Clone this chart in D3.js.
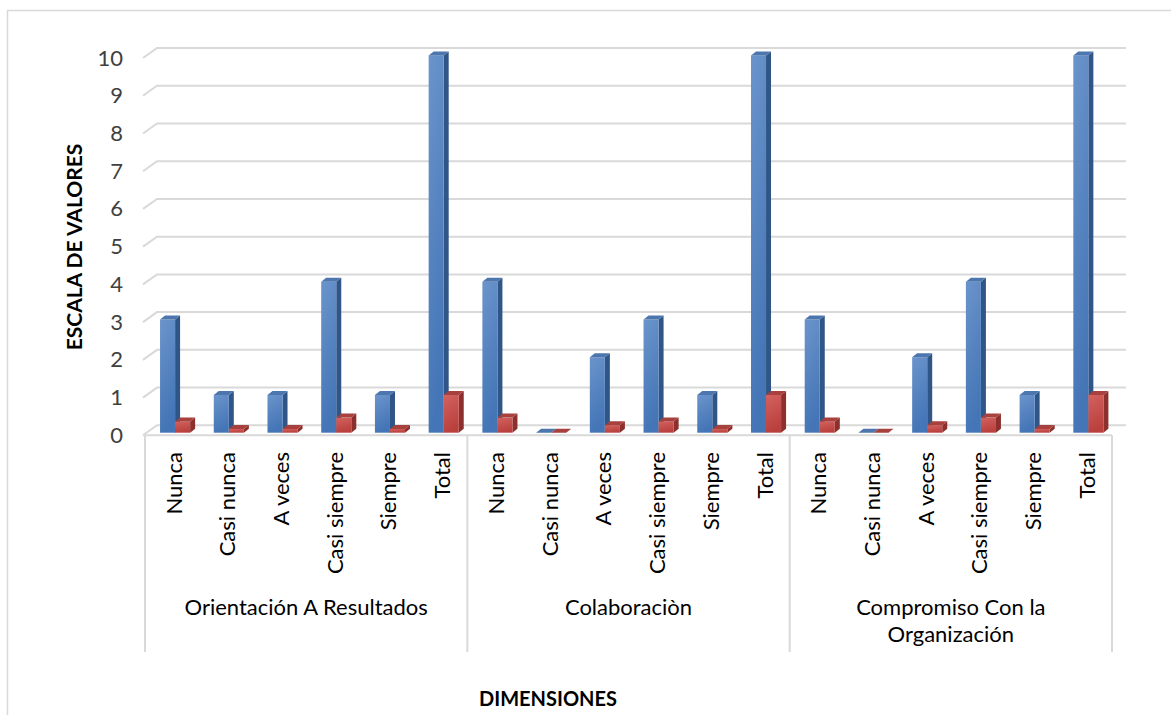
<!DOCTYPE html>
<html>
<head>
<meta charset="utf-8">
<script src="https://cdn.jsdelivr.net/npm/d3@7"></script>
<style>
  body { margin: 0; background: #fff; }
  text { font-family: Lato, "Open Sans", sans-serif; }
</style>
</head>
<body>
<div id="chart"></div>
<script>
// data
const groups = ['Orientación A Resultados', 'Colaboraciòn', 'Compromiso Con la Organización'];
const groupLines = [['Orientación A Resultados'], ['Colaboraciòn'], ['Compromiso Con la', 'Organización']];
const levels = ['Nunca', 'Casi nunca', 'A veces', 'Casi siempre', 'Siempre', 'Total'];
const seriesBlue = [3, 1, 1, 4, 1, 10, 4, 0, 2, 3, 1, 10, 3, 0, 2, 4, 1, 10];
const seriesRed = [0.3, 0.1, 0.1, 0.4, 0.1, 1, 0.4, 0, 0.2, 0.3, 0.1, 1, 0.3, 0, 0.2, 0.4, 0.1, 1];
const yTicks = [0, 1, 2, 3, 4, 5, 6, 7, 8, 9, 10];

const width = 1171, height = 715;
const plotX0 = 145, plotX1 = 1112;
const depthX = 14;                // floor / wall depth
const barDX = 5, barDY = 4;       // bar depth
const fontSize = 22;

const svg = d3.select('#chart').append('svg')
  .attr('width', width)
  .attr('height', height);

// outer border
svg.append('rect')
  .attr('x', 7.5).attr('y', 10.5)
  .attr('width', 1200).attr('height', 800)
  .attr('fill', 'none')
  .attr('stroke', '#d9d9d9')
  .attr('stroke-width', 1.5);

// gradients
const defs = svg.append('defs');
function grad(id, c0, c1) {
  const g = defs.append('linearGradient').attr('id', id)
    .attr('x1', 0).attr('y1', 0).attr('x2', 0.25).attr('y2', 1);
  g.append('stop').attr('offset', '0%').attr('stop-color', c0);
  g.append('stop').attr('offset', '100%').attr('stop-color', c1);
}
grad('blueFront', '#6b94cb', '#4475b6');
grad('redFront', '#d3625f', '#b9403d');

// scales
const yBack = d3.scaleLinear().domain([0, 10]).range([425.3, 48]);
const yFront = yBack.copy().range([435.3, 58]);
const yBar = yBack.copy().range([432.7, 55.4]);

const x = d3.scaleBand().domain(d3.range(seriesBlue.length)).range([plotX0, plotX1]);
const bw = x.bandwidth();
const xs = d3.scaleBand().domain([0, 1]).range([0.28 * bw, 0.84 * bw]);

// back wall gridlines with diagonal floor/wall edge
svg.append('g')
  .selectAll('path')
  .data(yTicks)
  .join('path')
  .attr('d', d => `M${plotX0 - 2},${yFront(d)}L${plotX0 - 2 + depthX},${yBack(d)}L${plotX1 + depthX},${yBack(d)}`)
  .attr('fill', 'none')
  .attr('stroke', '#d9d9d9')
  .attr('stroke-width', 2);

// floor front edge
svg.append('line')
  .attr('x1', plotX0 - 2).attr('x2', plotX1)
  .attr('y1', yFront(0)).attr('y2', yFront(0))
  .attr('stroke', '#d9d9d9')
  .attr('stroke-width', 2);

// group separators
svg.append('g')
  .selectAll('line')
  .data(d3.range(groups.length + 1))
  .join('line')
  .attr('x1', g => plotX0 + g * levels.length * bw)
  .attr('x2', g => plotX0 + g * levels.length * bw)
  .attr('y1', yFront(0))
  .attr('y2', 652)
  .attr('stroke', '#d9d9d9')
  .attr('stroke-width', 2);

// 3d bars
function drawBars(values, s, front, side, top) {
  const g = svg.append('g');
  values.forEach((v, i) => {
    const x0 = x(i) + xs(s), w = xs.bandwidth();
    const yt = yBar(v), yb = yBar(0);
    g.append('path')
      .attr('d', `M${x0 + w},${yt}L${x0 + w + barDX},${yt - barDY}L${x0 + w + barDX},${yb - barDY}L${x0 + w},${yb}Z`)
      .attr('fill', side);
    g.append('rect')
      .attr('x', x0).attr('y', yt)
      .attr('width', w).attr('height', yb - yt)
      .attr('fill', front);
    g.append('path')
      .attr('d', `M${x0},${yt}L${x0 + barDX},${yt - barDY}L${x0 + w + barDX},${yt - barDY}L${x0 + w},${yt}Z`)
      .attr('fill', top);
  });
}
drawBars(seriesBlue, 0, 'url(#blueFront)', '#2f5686', '#4c76ad');
drawBars(seriesRed, 1, 'url(#redFront)', '#8d2f2c', '#a8403d');

// y axis labels
const yAxisG = svg.append('g')
  .attr('transform', `translate(${plotX0},0)`)
  .call(d3.axisLeft(yFront).tickValues(yTicks).tickSize(0).tickPadding(22));
yAxisG.select('.domain').remove();
yAxisG.selectAll('text')
  .attr('font-family', 'Lato, sans-serif')
  .attr('font-size', fontSize)
  .attr('fill', '#404040');

// category labels
const xAxisG = svg.append('g')
  .attr('transform', 'translate(2,452)')
  .call(d3.axisBottom(x).tickFormat(i => levels[i % levels.length]).tickSize(0));
xAxisG.select('.domain').remove();
xAxisG.selectAll('text')
  .attr('font-family', 'Lato, sans-serif')
  .attr('font-size', fontSize)
  .attr('fill', '#000')
  .attr('transform', 'rotate(-90)')
  .attr('text-anchor', 'end')
  .attr('x', 0).attr('y', 0)
  .attr('dy', '0.35em');

// group labels
groupLines.forEach((lines, g) => {
  const cx = plotX0 + (g + 0.5) * levels.length * bw;
  lines.forEach((t, j) => {
    svg.append('text')
      .attr('x', cx)
      .attr('y', 615 + j * 27)
      .attr('text-anchor', 'middle')
      .attr('font-size', fontSize)
      .attr('fill', '#000')
      .text(t);
  });
});

// axis titles
svg.append('text')
  .attr('transform', 'translate(75,247) rotate(-90)')
  .attr('text-anchor', 'middle')
  .attr('dy', '0.35em')
  .attr('font-size', 21)
  .attr('font-weight', 'bold')
  .text('ESCALA DE VALORES');

svg.append('text')
  .attr('x', 548).attr('y', 706)
  .attr('text-anchor', 'middle')
  .attr('font-size', 20)
  .attr('font-weight', 'bold')
  .text('DIMENSIONES');
</script>
</body>
</html>
